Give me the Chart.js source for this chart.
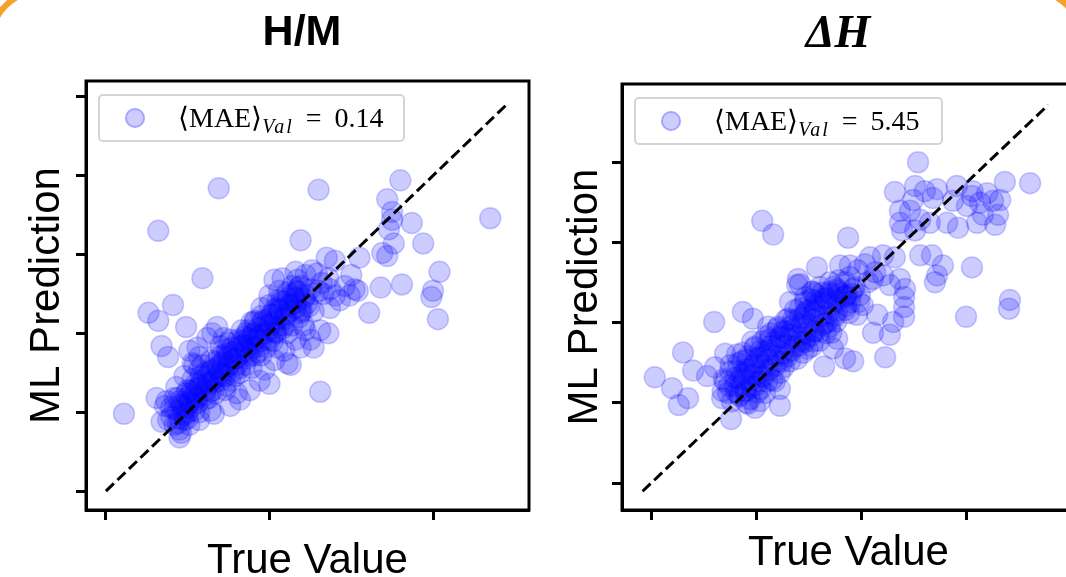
<!DOCTYPE html>
<html>
<head>
<meta charset="utf-8">
<script src="https://cdn.jsdelivr.net/npm/chart.js@4.4.1/dist/chart.umd.min.js"></script>
<style>
  html, body { margin: 0; padding: 0; width: 1066px; height: 577px; overflow: hidden; background: #fff; }
  #frame { position: absolute; left: -12px; top: -12px; width: 1097px; height: 700px; box-sizing: border-box;
           border: 6px solid #f8a02c; border-radius: 53px; }
  canvas { position: absolute; top: 0; }
  #cH { left: 0; }
  #cDH { left: 540px; }
  .legend { position: absolute; height: 48px; box-sizing: border-box; border: 2px solid #d4d4d4;
            border-radius: 5px; background: rgba(255,255,255,0.8); }
  .legend .mark { position: absolute; left: 25px; top: 12px; width: 20px; height: 20px; box-sizing: border-box;
                  border-radius: 50%; background: rgba(0,0,255,0.2); border: 2px solid rgba(0,0,255,0.2); }
  .legend .txt { position: absolute; left: 78px; top: 8px; font: 28px "Liberation Serif", serif; line-height: 28px;
                 white-space: nowrap; color: #000; }
  .legend .txt i { font-size: 20px; position: relative; top: 6px; letter-spacing: 2px; }
  .legend .txt .eq { margin: 0 13px 0 12px; }
</style>
</head>
<body>
<div id="frame"></div>
<canvas id="cH" width="604" height="600"></canvas>
<canvas id="cDH" width="596" height="600"></canvas>
<script>
// H/M panel: true value vs ML prediction
const hmTrue = [
  0.69, 1.30, 0.32, 1.80, 1.72, 1.75, 1.75, 1.87, 1.73, 2.35,
  1.19, 1.76, 1.94, 1.69, 1.72, 1.35, 1.40, 1.55, 0.59, 2.04,
  1.29, 1.50, 1.68, 1.81, 2.00, 1.99, 2.03, 1.61, 1.52, 0.41,
  0.26, 0.32, 0.49, 0.68, 0.34, 0.38, 1.31, 1.36, 1.27, 1.19,
  1.31, 1.00, 0.31, 0.11, 0.34, 0.45, 0.45, 0.66, 0.80, 1.54,
  1.43, 1.37, 1.11, 1.25,
  0.40, 0.44, 0.48, 0.38, 0.51, 0.54, 0.57, 0.50, 0.61, 0.64,
  0.65, 0.70, 0.61, 0.73, 0.67, 0.75, 0.79, 0.71, 0.82, 0.77,
  0.85, 0.88, 0.81, 0.91, 0.87, 0.94, 0.97, 0.91, 1.00, 0.95,
  1.03, 1.06, 1.00, 1.09, 1.05, 1.13, 1.16, 1.11, 1.19, 1.14,
  1.22, 1.17, 1.25, 1.06, 1.00,
  0.42, 0.45, 0.36, 0.51, 0.57, 0.54, 0.64, 0.46,
  0.51, 0.56, 0.57, 0.53, 0.65, 0.72, 0.62, 0.48, 0.54,
  0.94, 0.88, 0.82, 0.76, 0.97, 1.03, 1.09, 1.16, 1.22, 1.13,
  1.03, 1.08, 1.19, 1.30, 1.32, 1.37, 1.46, 1.49, 1.40, 1.36,
  1.26, 1.22, 1.16,
  0.47, 0.50, 0.53, 0.56, 0.59, 0.62, 0.65, 0.69, 0.72, 0.75,
  0.78, 0.81, 0.84, 0.87, 0.90, 0.93, 0.96, 0.99, 1.02, 1.05,
  1.08, 1.11, 1.14, 1.17, 0.44, 0.49, 0.55, 0.61, 0.67, 0.73,
  0.80, 0.86, 0.92, 0.98, 1.04, 1.10, 1.16, 0.57, 0.64, 0.70,
  0.76, 0.83, 0.89, 0.95,
  0.42, 0.51, 0.58, 0.66, 0.75, 0.82, 0.90, 0.97, 1.06, 1.13, 1.23,
  0.48, 0.57, 0.63, 0.73, 0.79, 0.89, 0.95, 1.05, 1.11, 1.21, 1.27,
  0.37, 0.43, 0.53, 0.59, 0.69, 0.75, 0.85, 0.91, 1.01, 1.07, 1.17,
  0.46, 0.55, 0.62, 0.71, 0.77, 0.87, 0.93, 1.03, 1.09, 1.19,
  0.50, 0.56, 0.66, 0.72, 0.82, 0.88, 0.98, 1.04, 1.14, 1.20,
  0.42, 0.52, 0.58, 0.68, 0.74, 0.84, 0.90, 1.00, 1.06, 1.16,
  0.40, 0.44, 0.47, 0.50, 0.53, 0.45, 0.49, 0.56, 0.60, 0.55,
  0.63, 0.67, 0.70, 0.64, 0.71, 0.78, 0.76, 0.80, 0.85, 0.74,
  0.83, 0.89, 0.93, 0.86, 0.95, 0.99, 1.02, 0.96, 1.04, 1.08,
  1.10, 1.03, 1.12, 1.18, 1.15, 1.21, 1.24, 1.18, 1.27, 1.33
];
const hmPred = [
  1.92, 1.91, 1.65, 1.97, 1.85, 1.77, 1.72, 1.70, 1.66, 1.73,
  1.59, 1.57, 1.57, 1.51, 1.49, 1.48, 1.46, 1.48, 1.35, 1.39,
  1.38, 1.37, 1.29, 1.31, 1.27, 1.23, 1.09, 1.13, 1.28, 1.18,
  1.13, 1.08, 1.04, 1.04, 0.92, 0.85, 1.02, 1.00, 0.91, 0.91,
  0.63, 0.68, 0.59, 0.49, 0.44, 0.34, 0.39, 0.49, 0.62, 1.27,
  1.21, 1.16, 0.81, 0.96,
  0.53, 0.59, 0.48, 0.45, 0.56, 0.61, 0.67, 0.64, 0.58, 0.63,
  0.70, 0.75, 0.75, 0.67, 0.82, 0.80, 0.84, 0.86, 0.75, 0.91,
  0.89, 0.96, 0.96, 0.86, 1.02, 0.99, 1.05, 1.08, 0.96, 1.11,
  1.08, 1.15, 1.18, 1.05, 1.21, 1.18, 1.22, 1.26, 1.13, 1.30,
  1.24, 1.34, 1.28, 1.27, 1.24,
  0.42, 0.46, 0.54, 0.42, 0.45, 0.51, 0.51, 0.37,
  0.89, 0.91, 0.85, 0.81, 1.00, 0.97, 0.97, 0.73, 0.80,
  0.70, 0.64, 0.58, 0.54, 0.77, 0.83, 0.89, 0.96, 1.02, 0.80,
  1.34, 1.35, 1.30, 1.27, 1.32, 1.28, 1.30, 1.24, 1.24, 1.35,
  1.40, 1.37, 1.39,
  0.54, 0.59, 0.63, 0.65, 0.70, 0.73, 0.77, 0.79, 0.83, 0.85,
  0.88, 0.91, 0.93, 0.97, 0.99, 1.03, 1.07, 1.09, 1.12, 1.16,
  1.20, 1.22, 1.25, 1.27, 0.51, 0.53, 0.58, 0.64, 0.69, 0.73,
  0.80, 0.84, 0.91, 0.96, 1.01, 1.09, 1.16, 0.77, 0.83, 0.92,
  0.96, 1.02, 1.07, 1.16,
  0.52, 0.57, 0.66, 0.71, 0.79, 0.87, 0.91, 1.00, 1.05, 1.14, 1.19,
  0.45, 0.50, 0.59, 0.64, 0.73, 0.78, 0.86, 0.91, 1.00, 1.05, 1.14,
  0.57, 0.66, 0.71, 0.80, 0.85, 0.94, 0.98, 1.07, 1.12, 1.21, 1.26,
  0.55, 0.60, 0.69, 0.74, 0.83, 0.88, 0.97, 1.01, 1.10, 1.15,
  0.50, 0.59, 0.64, 0.73, 0.78, 0.86, 0.91, 1.00, 1.05, 1.14,
  0.59, 0.64, 0.73, 0.78, 0.87, 0.92, 1.00, 1.05, 1.14, 1.19,
  0.47, 0.43, 0.49, 0.46, 0.54, 0.57, 0.62, 0.56, 0.61, 0.68,
  0.68, 0.62, 0.70, 0.76, 0.81, 0.76, 0.70, 0.84, 0.80, 0.90,
  0.95, 0.93, 0.88, 1.00, 0.95, 1.02, 0.95, 1.08, 1.07, 1.03,
  1.12, 1.15, 1.18, 1.10, 1.23, 1.22, 1.17, 1.29, 1.25, 1.25
];
const hmDiag = [0, 2.45];
const hmMAE = '0.14';

// ΔH panel
const dhTrue = [
  63.4, 57.9, 62.7, 65.0, 67.9, 72.6, 76.4, 76.2, 79.8, 84.0,
  90.0, 81.2, 78.1, 75.0, 71.7, 66.9, 62.2, 59.1, 61.5, 63.9,
  59.1, 59.6, 62.7, 66.2, 70.3, 72.9, 77.4, 81.7, 82.4, 78.8,
  82.9, 26.4, 29.0, 46.8, 55.1, 57.9, 63.9, 66.7, 69.3, 67.9,
  76.2, 39.4, 44.9, 47.2, 34.9, 35.4, 38.5, 55.1, 59.1, 60.3,
  52.7, 56.7, 85.2, 48.0, 49.6, 44.2, 85.0, 74.8, 55.6, 56.7,
  52.7, 57.5, 60.1, 60.1, 60.1, 53.7, 48.0, 46.1, 41.1, 67.4,
  38.2, 34.7, 15.0, 21.8, 24.2, 7.6, 10.0, 13.3, 15.2, 0.9,
  5.0, 8.8, 6.6, 16.9, 19.0, 24.7, 30.6, 17.6, 20.4, 43.2,
  44.2, 48.9, 50.3, 46.5,
  19.9, 21.1, 22.3, 23.5, 24.7, 25.9, 27.1, 28.3, 29.4, 30.6,
  31.8, 33.0, 34.2, 35.4, 36.6, 37.7, 38.9, 40.1, 41.3, 42.5,
  44.4, 46.1, 18.8, 20.7, 23.0, 24.7, 26.4, 28.3, 30.2, 32.0,
  34.2, 36.6, 38.9, 22.3, 24.7, 26.4, 28.3, 30.2, 32.0, 34.2,
  36.6, 38.9, 41.3, 43.7, 46.1, 18.3, 21.1, 23.5, 27.1, 30.6,
  25.9, 21.6, 24.0, 27.8, 33.0, 35.4, 38.2, 40.1, 42.5, 23.5,
  29.4, 17.6, 47.2, 49.1, 50.8, 52.0, 48.4, 46.1, 53.2, 51.5,
  36.6, 40.1, 42.5,
  20.3, 22.2, 25.8, 27.7, 31.2, 33.1, 36.7, 38.6, 42.1, 44.0, 47.6,
  22.6, 25.2, 27.6, 30.6, 33.0, 36.1, 38.5, 41.5, 44.0, 47.0, 49.4,
  17.3, 20.4, 22.8, 25.9, 28.2, 31.4, 33.7, 36.8, 39.2, 42.3, 44.6,
  21.5, 24.2, 26.5, 29.6, 32.1, 35.0, 37.4, 40.5, 42.9, 46.0,
  22.5, 25.7, 27.8, 31.1, 33.3, 36.5, 38.6, 41.9, 44.1, 47.3,
  20.0, 22.7, 25.4, 28.1, 30.8, 33.5, 36.2, 38.9, 41.6, 44.3,
  18.5, 20.9, 21.6, 23.9, 24.4, 26.7, 27.3, 29.5, 30.1, 32.4,
  32.9, 35.2, 35.8, 38.0, 38.6, 40.8, 41.3, 43.6, 44.9, 46.4,
  19.2, 17.0, 23.0, 26.0, 28.8, 31.5, 34.7, 37.2, 40.0, 42.8,
  18.9, 21.8, 24.6, 27.4, 30.0, 32.6, 35.3, 38.0, 40.7, 43.4
];
const dhPred = [
  80.0, 72.6, 74.1, 72.8, 73.3, 74.1, 72.8, 71.6, 72.3, 75.1,
  74.8, 70.4, 69.9, 69.1, 70.4, 71.1, 70.6, 67.9, 67.9, 65.7,
  64.9, 63.0, 63.0, 64.9, 64.9, 63.7, 64.9, 64.4, 66.9, 66.9,
  70.6, 65.4, 62.0, 61.2, 56.8, 56.3, 56.8, 56.8, 54.3, 51.8,
  53.8, 53.8, 54.3, 54.3, 50.9, 49.6, 47.7, 51.8, 50.9, 48.4,
  50.9, 49.4, 45.7, 48.4, 46.9, 48.4, 43.5, 41.5, 31.4, 37.0,
  37.5, 40.2, 41.5, 43.9, 46.4, 42.0, 30.4, 31.1, 29.1, 50.1,
  47.7, 49.4, 40.2, 42.7, 41.0, 32.6, 28.1, 26.7, 28.9, 26.4,
  23.7, 21.2, 19.5, 21.2, 16.0, 18.8, 19.3, 32.3, 32.1, 33.6,
  36.0, 42.0, 44.4, 46.9,
  24.2, 25.9, 27.4, 28.4, 29.9, 31.4, 32.8, 34.1, 35.3, 36.5,
  37.8, 39.0, 40.2, 41.2, 42.2, 43.2, 44.2, 45.2, 46.2, 47.2,
  45.2, 46.4, 27.9, 29.9, 31.6, 34.1, 35.3, 37.3, 39.0, 40.7,
  43.2, 45.2, 47.2, 23.0, 24.2, 26.7, 28.4, 30.4, 32.3, 34.1,
  35.8, 37.8, 39.8, 41.5, 43.2, 22.5, 21.7, 25.4, 22.5, 23.5,
  20.5, 30.4, 35.3, 39.0, 45.2, 35.3, 34.1, 37.8, 39.0, 21.0,
  25.4, 25.4, 51.4, 53.1, 54.6, 56.3, 48.9, 50.1, 52.6, 50.1,
  46.4, 48.9, 50.1,
  22.6, 25.9, 27.5, 30.9, 32.5, 35.9, 37.4, 40.8, 42.4, 45.7, 47.2,
  20.1, 22.6, 25.4, 27.5, 30.4, 32.5, 35.3, 37.4, 40.3, 42.4, 45.2,
  25.9, 28.0, 30.8, 32.9, 35.8, 37.9, 40.7, 42.8, 45.6, 47.7, 50.6,
  24.6, 26.9, 29.5, 31.8, 34.5, 36.7, 39.4, 41.7, 44.4, 46.6,
  23.0, 25.4, 28.0, 30.3, 33.0, 35.2, 37.9, 40.2, 42.9, 45.1,
  26.3, 28.4, 31.3, 33.3, 36.2, 38.2, 41.1, 43.1, 46.0, 48.0,
  24.3, 22.0, 27.1, 24.1, 29.3, 26.5, 31.9, 29.2, 34.4, 31.6,
  37.1, 34.3, 39.6, 36.8, 42.3, 39.5, 44.7, 42.0, 47.3, 44.2,
  20.4, 23.0, 19.8, 23.5, 25.8, 28.9, 31.0, 33.5, 35.5, 37.5,
  29.5, 32.5, 33.7, 36.6, 38.5, 41.0, 43.6, 45.8, 47.5, 49.0
];
const dhDiag = [-2, 94.3];
const dhMAE = '5.45';

const toPoints = (xs, ys) => xs.map((x, i) => ({ x: x, y: ys[i] }));

// black box around the plotting area, like matplotlib spines
const spines = {
  id: 'spines',
  afterDatasetsDraw(chart) {
    const { ctx, chartArea: a } = chart;
    ctx.save();
    ctx.strokeStyle = '#000';
    ctx.lineWidth = 3;
    ctx.strokeRect(a.left, a.top, a.right - a.left, a.bottom - a.top);
    ctx.restore();
  }
};

function axis(min, max, step, title, titlePad, size, isX) {
  return {
    type: 'linear', min: min, max: max,
    ticks: { display: false, stepSize: step, includeBounds: false },
    grid: { drawOnChartArea: false, drawTicks: true, tickLength: 10, tickWidth: 3, tickColor: '#000' },
    border: { display: true, color: '#000', width: 3 },
    title: {
      display: true, text: title, color: '#000',
      font: { family: 'Liberation Sans', size: 42, lineHeight: 1.2 },
      padding: titlePad
    },
    afterFit: s => { if (isX) s.height = size; else s.width = size; }
  };
}

function makeChart(id, o) {
  const chart = new Chart(document.getElementById(id), {
    type: 'scatter',
    data: {
      datasets: [{
        type: 'line',
        data: toPoints(o.diag, o.diag),
        borderColor: '#000', borderWidth: 3, borderDash: [11, 5],
        pointRadius: 0, fill: false, order: 0
      }, {
        label: o.mae,
        data: toPoints(o.xs, o.ys),
        backgroundColor: 'rgba(0,0,255,0.2)',
        borderColor: 'rgba(0,0,255,0.2)',
        borderWidth: 1.5, pointRadius: 10.5, order: 1
      }]
    },
    options: {
      responsive: false, animation: false, devicePixelRatio: 1,
      layout: { padding: 0 },
      plugins: {
        legend: { display: false },
        tooltip: { enabled: false },
        title: {
          display: true, text: o.title, color: '#000',
          font: o.titleFont,
          padding: { top: 12, bottom: 26 }
        }
      },
      scales: {
        x: axis(o.x[0], o.x[1], o.x[2], 'True Value', { top: 0, bottom: o.xTitlePad }, 90, true),
        y: axis(o.y[0], o.y[1], o.y[2], 'ML Prediction', { top: o.yTitlePad, bottom: 0 }, o.yWidth, false),
        // empty right-hand strip so the title is centred on the whole canvas
        y2: {
          type: 'linear', position: 'right', axis: 'y',
          ticks: { display: false }, grid: { display: false }, border: { display: false },
          afterFit: s => { s.width = o.rightWidth; }
        }
      }
    },
    plugins: [spines]
  });

  // html legend inside the plot, upper left
  const a = chart.chartArea;
  const box = document.createElement('div');
  box.className = 'legend';
  box.style.left = (o.left + a.left + 12) + 'px';
  box.style.top = (a.top + 13) + 'px';
  box.style.width = o.legendWidth + 'px';
  box.innerHTML = '<span class="mark"></span><span class="txt">\u27E8MAE\u27E9<i>Val</i><span class="eq">=</span>'
    + chart.data.datasets[1].label + '</span>';
  document.body.appendChild(box);
  return chart;
}

makeChart('cH', {
  left: 0, xs: hmTrue, ys: hmPred, diag: hmDiag, mae: hmMAE,
  title: 'H/M', titleFont: { family: 'Liberation Sans', size: 43, weight: 'bold', lineHeight: 1 },
  x: [-0.122, 2.587, 1], y: [-0.12, 2.60, 0.5],
  rightWidth: 75, yWidth: 86, xTitlePad: 13, yTitlePad: 22, legendWidth: 307
});

makeChart('cDH', {
  left: 540, xs: dhTrue, ys: dhPred, diag: dhDiag, mae: dhMAE,
  title: '\u0394H', titleFont: { family: 'Liberation Serif', size: 46, weight: 'bold', style: 'italic', lineHeight: 1 },
  x: [-6.885, 100.66, 25], y: [-6.67, 99.51, 20],
  rightWidth: 61, yWidth: 82, xTitlePad: 21, yTitlePad: 20, legendWidth: 309
});
</script>
</body>
</html>
